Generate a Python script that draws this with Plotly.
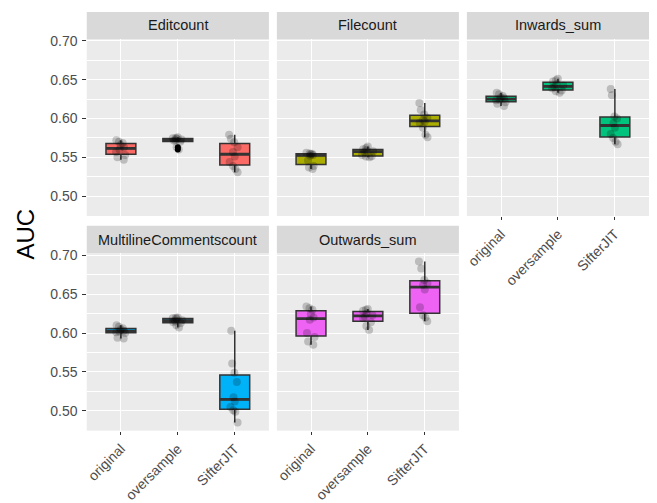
import numpy as np
import plotly.graph_objects as go

# ---------------- data ----------------
methods = ["original", "oversample", "SifterJIT"]
facets = ["Editcount", "Filecount", "Inwards_sum", "MultilineCommentscount", "Outwards_sum"]
colors = ["#FC6A66", "#ABAD00", "#00C47E", "#00B2F8", "#EE62F4"]

editcount = [
    [0.547, 0.550, 0.553, 0.557, 0.560, 0.563, 0.566, 0.5685, 0.570, 0.572],
    [0.560, 0.563, 0.570, 0.5715, 0.572, 0.573, 0.574, 0.5745, 0.575, 0.576],
    [0.531, 0.535, 0.539, 0.544, 0.551, 0.557, 0.563, 0.5695, 0.574, 0.579],
]
filecount = [
    [0.535, 0.537, 0.539, 0.546, 0.552, 0.553, 0.554, 0.5548, 0.555, 0.556],
    [0.550, 0.551, 0.5515, 0.553, 0.557, 0.558, 0.559, 0.5605, 0.562, 0.564],
    [0.576, 0.579, 0.588, 0.5945, 0.596, 0.598, 0.601, 0.605, 0.611, 0.620],
]
inwards_sum = [
    [0.616, 0.619, 0.621, 0.6235, 0.624, 0.626, 0.627, 0.629, 0.631, 0.633],
    [0.633, 0.635, 0.636, 0.639, 0.640, 0.6425, 0.644, 0.6475, 0.649, 0.651],
    [0.567, 0.570, 0.575, 0.580, 0.588, 0.594, 0.600, 0.6025, 0.630, 0.638],
]
multiline_comments = [
    [0.593, 0.594, 0.600, 0.601, 0.602, 0.603, 0.605, 0.6063, 0.608, 0.610],
    [0.607, 0.610, 0.613, 0.614, 0.6155, 0.6165, 0.618, 0.619, 0.6195, 0.620],
    [0.485, 0.499, 0.501, 0.505, 0.512, 0.5175, 0.537, 0.549, 0.561, 0.603],
]
outwards_sum = [
    [0.585, 0.589, 0.595, 0.600, 0.617, 0.620, 0.624, 0.630, 0.632, 0.634],
    [0.604, 0.609, 0.614, 0.619, 0.621, 0.623, 0.625, 0.6285, 0.630, 0.631],
    [0.615, 0.620, 0.623, 0.633, 0.656, 0.662, 0.664, 0.668, 0.683, 0.692],
]
facet_data = [editcount, filecount, inwards_sum, multiline_comments, outwards_sum]

y_ticks = [0.50, 0.55, 0.60, 0.65, 0.70]

# ---------------- layout geometry (page pixels) ----------------
PAGE_W, PAGE_H = 657, 503
OFF = 8  # default body margin of the html page
W, H = PAGE_W - OFF, PAGE_H - OFF
col_px = [(85, 267.7), (275.7, 458.3), (466.3, 649)]
row_plot_px = [(33.5, 215), (253.3, 435)]
row_strip_px = [(6, 33.5), (225, 253.3)]

FONT = "Liberation Sans, Arial, Helvetica, sans-serif"


def px_x(p):
    return (p - OFF) / W


def px_y(p):
    return 1 - (p - OFF) / H


def box_stats(v):
    a = np.sort(np.asarray(v, dtype=float))
    q1, med, q3 = np.percentile(a, [25, 50, 75])
    iqr = q3 - q1
    inside = a[(a >= q1 - 1.5 * iqr) & (a <= q3 + 1.5 * iqr)]
    lo, hi = inside.min(), inside.max()
    out = a[(a < lo) | (a > hi)]
    return q1, med, q3, lo, hi, out


all_vals = np.concatenate([np.concatenate(f) for f in facet_data])
vmin, vmax = all_vals.min(), all_vals.max()
span = vmax - vmin
y_range = [vmin - 0.05 * span, vmax + 0.05 * span]

fig = go.Figure()
layout = dict(
    width=W, height=H,
    margin=dict(l=0, r=0, t=0, b=0),
    paper_bgcolor="white",
    plot_bgcolor="#EBEBEB",
    boxmode="overlay",
    boxgap=0.25,
    showlegend=False,
    font=dict(family=FONT, color="#4D4D4D", size=14),
)
shapes = []
annotations = []

for i, (name, data, col) in enumerate(zip(facets, facet_data, colors)):
    r, c = divmod(i, 3)
    k = i + 1
    xa = f"x{k}" if k > 1 else "x"
    ya = f"y{k}" if k > 1 else "y"
    stats = [box_stats(v) for v in data]

    # box body
    fig.add_trace(go.Box(
        x=methods,
        q1=[s[0] for s in stats], median=[s[1] for s in stats], q3=[s[2] for s in stats],
        lowerfence=[s[3] for s in stats], upperfence=[s[4] for s in stats],
        fillcolor=col, line=dict(color="#333333", width=1.5), whiskerwidth=0,
        boxpoints=False, hoverinfo="skip", xaxis=xa, yaxis=ya, orientation="v",
    ))
    # thick median line
    fig.add_trace(go.Box(
        x=methods,
        q1=[s[1] for s in stats], median=[s[1] for s in stats], q3=[s[1] for s in stats],
        lowerfence=[s[1] for s in stats], upperfence=[s[1] for s in stats],
        fillcolor="rgba(0,0,0,0)", line=dict(color="#333333", width=2.8), whiskerwidth=0,
        boxpoints=False, hoverinfo="skip", xaxis=xa, yaxis=ya, orientation="v",
    ))
    # outliers
    ox, oy = [], []
    for m, s in zip(methods, stats):
        for v in s[5]:
            ox.append(m)
            oy.append(v)
    if ox:
        fig.add_trace(go.Scatter(
            x=ox, y=oy, mode="markers", marker=dict(color="#000000", size=6),
            hoverinfo="skip", xaxis=xa, yaxis=ya,
        ))
    # jittered points
    px_, py_ = [], []
    for m, v in zip(methods, data):
        px_ += [m] * len(v)
        py_ += list(v)
    fig.add_trace(go.Box(
        x=px_, y=py_, boxpoints="all", jitter=0.42, pointpos=0,
        fillcolor="rgba(0,0,0,0)", line=dict(width=0, color="rgba(0,0,0,0)"),
        marker=dict(color="rgba(0,0,0,0.2)", size=8, line=dict(width=0)),
        hoverinfo="skip", xaxis=xa, yaxis=ya, orientation="v",
    ))

    x0, x1 = col_px[c]
    yt, yb = row_plot_px[r]
    show_x = (r == 1) or (c == 2 and r == 0)
    show_y = (c == 0)

    layout["xaxis" + (str(k) if k > 1 else "")] = dict(
        domain=[px_x(x0), px_x(x1)], anchor=ya,
        type="category", categoryorder="array", categoryarray=methods,
        range=[-0.6, 2.6],
        showgrid=True, gridcolor="white", gridwidth=1.4,
        zeroline=False, showline=False,
        ticks="outside" if show_x else "", ticklen=3.5, tickwidth=1.1, tickcolor="#333333",
        showticklabels=show_x, tickangle=-45,
        tickfont=dict(family=FONT, size=14, color="#4D4D4D"),
    )
    layout["yaxis" + (str(k) if k > 1 else "")] = dict(
        domain=[px_y(yb), px_y(yt)], anchor=xa,
        range=y_range, tickvals=y_ticks, ticktext=[f"{t:.2f}" for t in y_ticks],
        showgrid=True, gridcolor="white", gridwidth=1.4,
        minor=dict(dtick=0.025, tick0=0.475, showgrid=True, gridcolor="white", gridwidth=0.6, ticks=""),
        zeroline=False, showline=False,
        ticks="outside" if show_y else "", ticklen=3.5, tickwidth=1.1, tickcolor="#333333",
        showticklabels=show_y, ticklabelstandoff=2,
        tickfont=dict(family=FONT, size=14, color="#4D4D4D"),
    )

    st, sb = row_strip_px[r]
    shapes.append(dict(type="rect", xref="paper", yref="paper",
                       x0=px_x(x0), x1=px_x(x1), y0=px_y(sb), y1=px_y(st),
                       fillcolor="#D9D9D9", line=dict(width=0), layer="below"))
    annotations.append(dict(text=name, xref="paper", yref="paper",
                            x=px_x((x0 + x1) / 2), y=px_y((st + sb) / 2),
                            xanchor="center", yanchor="middle", showarrow=False,
                            font=dict(family=FONT, size=14.5, color="#1A1A1A")))

annotations.append(dict(text="AUC", xref="paper", yref="paper",
                        x=px_x(24), y=px_y(233), xanchor="center", yanchor="middle",
                        textangle=-90, showarrow=False,
                        font=dict(family=FONT, size=24, color="#000000")))

layout["shapes"] = shapes
layout["annotations"] = annotations
fig.update_layout(**layout)
fig.write_html("out.html")
